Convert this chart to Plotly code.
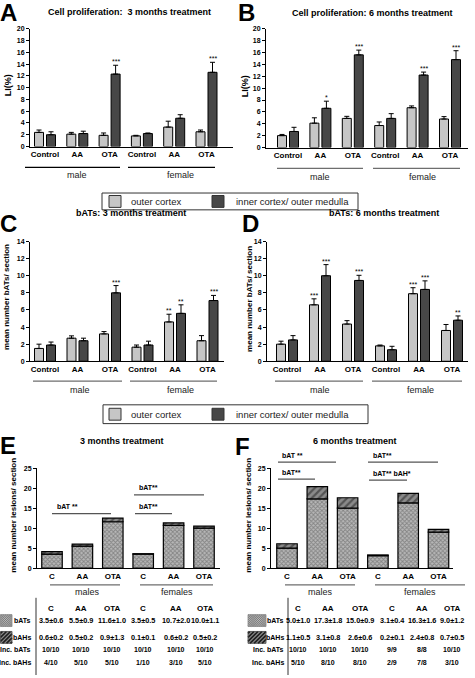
import plotly.graph_objects as go

W, H = 475, 678
FONT = "Liberation Sans, Arial, Helvetica, sans-serif"

# ---------------- data ----------------
groups = ["Control", "AA", "OTA", "Control", "AA", "OTA"]
groups_short = ["C", "AA", "OTA", "C", "AA", "OTA"]
series_names = ["outer cortex", "inner cortex/ outer medulla"]

# A: cell proliferation, 3 months (LI %)
a_outer = [2.4, 2.1, 1.9, 1.8, 3.3, 2.5]
a_outer_err = [0.4, 0.3, 0.4, 0.1, 1.0, 0.3]
a_inner = [2.0, 2.2, 12.3, 2.2, 4.8, 12.6]
a_inner_err = [0.5, 0.4, 1.5, 0.1, 0.6, 1.7]
a_outer_sig = ["", "", "", "", "", ""]
a_inner_sig = ["", "", "***", "", "", "***"]

# B: cell proliferation, 6 months (LI %)
b_outer = [2.0, 4.1, 4.9, 3.7, 6.7, 4.8]
b_outer_err = [0.2, 0.9, 0.35, 0.6, 0.3, 0.4]
b_inner = [2.7, 6.6, 15.6, 4.9, 12.2, 14.8]
b_inner_err = [0.7, 1.2, 0.8, 0.8, 0.5, 1.5]
b_outer_sig = ["", "", "", "", "", ""]
b_inner_sig = ["", "*", "***", "", "***", "***"]

# C: bATs, 3 months
c_outer = [1.5, 2.7, 3.2, 1.65, 4.6, 2.4]
c_outer_err = [0.5, 0.27, 0.27, 0.25, 0.9, 0.6]
c_inner = [1.9, 2.4, 8.0, 1.9, 5.6, 7.1]
c_inner_err = [0.35, 0.3, 0.85, 0.45, 1.0, 0.6]
c_outer_sig = ["", "", "", "", "**", ""]
c_inner_sig = ["", "", "***", "", "**", "***"]

# D: bATs, 6 months
d_outer = [2.0, 6.6, 4.35, 1.8, 7.9, 3.6]
d_outer_err = [0.35, 0.7, 0.4, 0.1, 0.7, 0.7]
d_inner = [2.5, 10.0, 9.45, 1.35, 8.4, 4.8]
d_inner_err = [0.5, 1.3, 0.6, 0.4, 1.0, 0.5]
d_outer_sig = ["", "***", "", "", "***", ""]
d_inner_sig = ["", "***", "***", "", "***", "**"]

# E: lesions, 3 months
e_bats = [3.5, 5.5, 11.6, 3.5, 10.7, 10.0]
e_bats_sd = [0.6, 0.9, 1.0, 0.5, 2.0, 1.1]
e_bahs = [0.6, 0.5, 0.9, 0.1, 0.6, 0.5]
e_bahs_sd = [0.2, 0.2, 1.3, 0.1, 0.2, 0.2]
e_inc_bats = ["10/10", "10/10", "10/10", "10/10", "10/10", "10/10"]
e_inc_bahs = ["4/10", "5/10", "5/10", "1/10", "3/10", "5/10"]

# F: lesions, 6 months
f_bats = [5.0, 17.3, 15.0, 3.1, 16.3, 9.0]
f_bats_sd = [1.0, 1.8, 0.9, 0.4, 1.6, 1.2]
f_bahs = [1.1, 3.1, 2.6, 0.2, 2.4, 0.7]
f_bahs_sd = [0.5, 0.8, 0.6, 0.1, 0.8, 0.5]
f_inc_bats = ["10/10", "10/10", "10/10", "9/9", "8/8", "10/10"]
f_inc_bahs = ["5/10", "8/10", "8/10", "2/9", "7/8", "3/10"]

# ---------------- styling / layout helpers ----------------
LIGHT = "#c6c6c6"
DARK = "#474747"
GRAYLINE = "#6e6e6e"
BATS_PAT = dict(shape="x", size=3, solidity=0.5, fgcolor="#4e4e4e", bgcolor="#b8b8b8")
BAHS_PAT = dict(shape="/", size=5, solidity=0.45, fgcolor="#1e1e1e", bgcolor="#8a8a8a")


def X(px):
    return px / W


def Y(py):
    return 1 - py / H


fig = go.Figure()
ann = []
shapes = []
layout = {}


def axes_ids(n):
    return ("x" if n == 1 else f"x{n}"), ("y" if n == 1 else f"y{n}")


def setup_axes(n, left, right, first, sp, ybot, ytop, yrange, dtick, ticktext, tickfs=8):
    xr = [-(first - left) / sp, (right - first) / sp]
    xa, ya = axes_ids(n)
    layout["xaxis" if n == 1 else f"xaxis{n}"] = dict(
        domain=[X(left), X(right)], range=xr, anchor=ya,
        showline=True, linecolor="black", linewidth=1, ticks="",
        tickvals=list(range(len(ticktext))), ticktext=ticktext,
        tickfont=dict(size=tickfs, family=FONT, color="black", weight="bold"),
        showgrid=False, zeroline=False, fixedrange=True)
    layout["yaxis" if n == 1 else f"yaxis{n}"] = dict(
        domain=[Y(ybot), Y(ytop)], range=yrange, anchor=xa,
        showline=True, linecolor="black", linewidth=1,
        ticks="outside", ticklen=3, tickwidth=1, tickcolor="black",
        dtick=dtick, tick0=0,
        tickfont=dict(size=7, family=FONT, color="black", weight="bold"),
        showgrid=False, zeroline=False, fixedrange=True)
    return xa, ya


def pair_panel(n, geo, outer, outer_err, inner, inner_err, outer_sig, inner_sig, yrange, dtick):
    left, right, first, sp, ybot, ytop = geo
    xa, ya = setup_axes(n, left, right, first, sp, ybot, ytop, yrange, dtick, groups)
    off = 6.0 / sp
    wid = 9.0 / sp
    xs = list(range(len(groups)))
    for vals, errs, sig, col, sgn, name in [
        (outer, outer_err, outer_sig, LIGHT, -1, series_names[0]),
        (inner, inner_err, inner_sig, DARK, 1, series_names[1]),
    ]:
        xpos = [x + sgn * off for x in xs]
        fig.add_trace(go.Bar(
            x=xpos, y=vals, width=wid, xaxis=xa, yaxis=ya, name=name,
            marker=dict(color=col, line=dict(color="black", width=1)),
            error_y=dict(type="data", array=errs, arrayminus=[0] * len(errs),
                         symmetric=False, color="black", thickness=1, width=2.5),
            showlegend=False, hoverinfo="skip"))
        for xp, v, e, s in zip(xpos, vals, errs, sig):
            if s:
                ann.append(dict(x=xp, y=v + e, xref=xa, yref=ya, text=s, showarrow=False,
                                yanchor="bottom", yshift=-2,
                                font=dict(size=7, family=FONT, color="black")))


def stack_panel(n, geo, bats, bahs):
    left, right, first, sp, ybot, ytop = geo
    xa, ya = setup_axes(n, left, right, first, sp, ybot, ytop, [0, 25], 5, groups_short)
    wid = 20.5 / sp
    xs = list(range(len(groups_short)))
    fig.add_trace(go.Bar(
        x=xs, y=bats, width=wid, xaxis=xa, yaxis=ya, name="bATs",
        marker=dict(color="#bdbdbd", line=dict(color="black", width=1.2), pattern=BATS_PAT),
        showlegend=False, hoverinfo="skip"))
    fig.add_trace(go.Bar(
        x=xs, y=bahs, base=bats, width=wid, xaxis=xa, yaxis=ya, name="bAHs",
        marker=dict(color="#555555", line=dict(color="black", width=1.2), pattern=BAHS_PAT),
        showlegend=False, hoverinfo="skip"))


pair_panel(1, (30, 233, 45, 32.3, 144, 25), a_outer, a_outer_err, a_inner, a_inner_err,
           a_outer_sig, a_inner_sig, [0, 20], 2)
pair_panel(2, (266, 468, 288, 32.4, 145, 25), b_outer, b_outer_err, b_inner, b_inner_err,
           b_outer_sig, b_inner_sig, [0, 20], 2)
pair_panel(3, (30, 224, 45, 32.5, 361, 240), c_outer, c_outer_err, c_inner, c_inner_err,
           c_outer_sig, c_inner_sig, [0, 14], 2)
pair_panel(4, (267, 468, 287, 33.0, 361, 240), d_outer, d_outer_err, d_inner, d_inner_err,
           d_outer_sig, d_inner_sig, [0, 14], 2)
stack_panel(5, (37, 220, 52, 30.4, 570, 469), e_bats, e_bahs)
stack_panel(6, (271, 453, 287, 30.3, 570, 469), f_bats, f_bahs)


# ---------------- text / shape helpers ----------------
def text(x, y, s, size=9, bold=False, xanchor="center", angle=0, color="black"):
    ann.append(dict(x=X(x), y=Y(y), xref="paper", yref="paper", text=s, showarrow=False,
                    xanchor=xanchor, yanchor="middle", textangle=angle,
                    font=dict(size=size, family=FONT, color=color,
                              weight="bold" if bold else "normal")))


def hline(x0, x1, y, color="black", width=1):
    shapes.append(dict(type="line", xref="paper", yref="paper", x0=X(x0), x1=X(x1),
                       y0=Y(y), y1=Y(y), line=dict(color=color, width=width)))


def vline(x, y0, y1, color="black", width=1):
    shapes.append(dict(type="line", xref="paper", yref="paper", x0=X(x), x1=X(x),
                       y0=Y(y0), y1=Y(y1), line=dict(color=color, width=width)))


def rect(x0, y0, x1, y1, fill, line="black", lw=1):
    shapes.append(dict(type="rect", xref="paper", yref="paper", x0=X(x0), x1=X(x1),
                       y0=Y(y0), y1=Y(y1), fillcolor=fill, line=dict(color=line, width=lw)))


def hatch(x0, y0, x1, y1, step, color, lw, forward=True, backward=False):
    """Diagonal hatch lines clipped to a pixel rectangle (legend swatch decoration)."""
    segs = []
    if forward:  # '/' lines: x + y = c
        c = x0 + y0 + step / 2
        while c < x1 + y1:
            xa, xb = max(x0, c - y1), min(x1, c - y0)
            if xb > xa:
                segs.append(f"M{X(xa):.5f},{Y(c - xa):.5f}L{X(xb):.5f},{Y(c - xb):.5f}")
            c += step
    if backward:  # '\' lines: x - y = c
        c = x0 - y1 + step / 2
        while c < x1 - y0:
            xa, xb = max(x0, c + y0), min(x1, c + y1)
            if xb > xa:
                segs.append(f"M{X(xa):.5f},{Y(xa - c):.5f}L{X(xb):.5f},{Y(xb - c):.5f}")
            c += step
    shapes.append(dict(type="path", xref="paper", yref="paper", path="".join(segs),
                       line=dict(color=color, width=lw)))


def swatch_bats(x0, y0, x1, y1):
    rect(x0, y0, x1, y1, "#bcbcbc", "rgba(0,0,0,0)", 0)
    hatch(x0, y0, x1, y1, 2.2, "#6a6a6a", 0.6, True, True)
    rect(x0, y0, x1, y1, "rgba(0,0,0,0)", "#888", 0.8)


def swatch_bahs(x0, y0, x1, y1):
    rect(x0, y0, x1, y1, "#8a8a8a", "rgba(0,0,0,0)", 0)
    hatch(x0, y0, x1, y1, 4.0, "#1e1e1e", 1.6, True, False)
    rect(x0, y0, x1, y1, "rgba(0,0,0,0)", "#444", 0.8)


# panel letters
for L, x, y in [("A", 8, 9), ("B", 246, 9), ("C", 8, 222), ("D", 251, 222),
                ("E", 8, 446), ("F", 242, 447)]:
    text(x, y, L, size=24, bold=True)

# titles
text(129, 8, "Cell proliferation:&nbsp; 3 months treatment", 9, True)
text(372, 9, "Cell proliferation: 6 months treatment", 9, True)
text(131, 211, "bATs: 3 months treatment", 9, True)
text(384, 211, "bATs: 6 months treatment", 9, True)
text(122, 442, "3 months treatment", 9, True)
text(355, 442, "6 months treatment", 9, True)

# y-axis titles
text(8, 82, "LI(%)", 9, True, angle=-90)
text(245, 83, "LI(%)", 9, True, angle=-90)
text(7, 296, "mean number bATs/ section", 8, True, angle=-90)
text(250, 298, "mean number bATs/ section", 8, True, angle=-90)
text(14, 517, "mean number lesions/ section", 8, True, angle=-90)
text(249, 517, "mean number lesions/ section", 8, True, angle=-90)

# group underlines and sex labels
for (m0, m1, f0, f1, ly, ty, mx, fx, col, lab) in [
    (25, 120, 128, 215, 165, 173, 77, 180, "black", ("male", "female")),
    (277, 363, 373, 460, 166, 175, 320, 422, GRAYLINE, ("male", "female")),
    (33, 122, 130, 217, 381, 390, 80, 180, GRAYLINE, ("male", "female")),
    (275, 363, 372, 462, 381, 390, 320, 420, GRAYLINE, ("male", "female")),
    (50, 120, 140, 213, 587, 594, 87, 177, GRAYLINE, ("males", "females")),
    (285, 355, 375, 465, 587, 594, 320, 420, GRAYLINE, ("males", "females")),
]:
    hline(m0, m1, ly, col, 1.2)
    hline(f0, f1, ly, col, 1.2)
    text(mx, ty, lab[0], 9, False, color="#222")
    text(fx, ty, lab[1], 9, False, color="#222")

# legend boxes for A-D
for (bx0, bx1, by0, by1) in [(102, 358, 191, 208), (103, 368, 405, 424)]:
    rect(bx0, by0, bx1, by1, "white", "#333", 1)
    cy = (by0 + by1) / 2
    rect(109, cy - 6, 121, cy + 6, LIGHT, "#333", 1)
    text(129, cy, series_names[0], 9.5, False, xanchor="left", color="#222")
    rect(212, cy - 6, 224, cy + 6, DARK, "#333", 1)
    text(234, cy, series_names[1], 9.5, False, xanchor="left", color="#222")

# significance bars E / F
for (x0, x1, y, lab, lx, lyy) in [
    (52, 111, 515, "bAT **", 55, 508),
    (134, 204, 496, "bAT**", 137, 489),
    (135, 172, 515, "bAT**", 137, 508),
    (278, 336, 463, "bAT **", 280, 456),
    (278, 315, 480, "bAT**", 280, 473),
    (368, 438, 463, "bAT**", 371, 456),
    (369, 407, 481, "bAT** bAH*", 371, 474),
]:
    hline(x0, x1, y, "#555", 1.2)
    text(lx, lyy, lab, 7, True, xanchor="left")

# tables
rows_y = dict(head=611, bats=623, bahs=640, incb=652, inch=665)


def table(cols, vline_x, lab_right, bats, bats_sd, bahs, bahs_sd, inc_b, inc_h, sw):
    vline(vline_x, 600, 678, "#333", 1)
    for c, g in zip(cols, groups_short):
        text(c, rows_y["head"], g, 8, True)
    for c, m, s in zip(cols, bats, bats_sd):
        text(c, rows_y["bats"], f"{m:.1f}±{s:.1f}", 7.3, True)
    for c, m, s in zip(cols, bahs, bahs_sd):
        text(c, rows_y["bahs"], f"{m:.1f}±{s:.1f}", 7.3, True)
    for c, v in zip(cols, inc_b):
        text(c, rows_y["incb"], v, 7, True)
    for c, v in zip(cols, inc_h):
        text(c, rows_y["inch"], v, 7, True)
    text(lab_right, rows_y["bats"], "bATs", 7, True, xanchor="right")
    text(lab_right, rows_y["bahs"], "bAHs", 7, True, xanchor="right")
    text(lab_right, rows_y["incb"], "Inc. bATs", 7, True, xanchor="right")
    text(lab_right, rows_y["inch"], "Inc. bAHs", 7, True, xanchor="right")
    sx0, sx1 = sw
    swatch_bats(sx0, rows_y["bats"] - 6, sx1, rows_y["bats"] + 6)
    swatch_bahs(sx0, rows_y["bahs"] - 6, sx1, rows_y["bahs"] + 6)


table([51, 81, 112, 143, 176, 205], 36, 33, e_bats, e_bats_sd, e_bahs, e_bahs_sd,
      e_inc_bats, e_inc_bahs, (0.5, 12))
table([298, 328, 360, 392, 422, 452], 288, 286, f_bats, f_bats_sd, f_bahs, f_bahs_sd,
      f_inc_bats, f_inc_bahs, (248, 266))

layout.update(
    width=W, height=H, margin=dict(l=0, r=0, t=0, b=0),
    paper_bgcolor="white", plot_bgcolor="white",
    barmode="overlay", showlegend=False,
    annotations=ann, shapes=shapes,
    font=dict(family=FONT, color="black"),
)
fig.update_layout(**layout)
fig.write_html(
    "out.html", config=dict(displayModeBar=False),
    post_script="document.body.style.margin='0';document.body.style.overflow='hidden';"
                "document.documentElement.style.overflow='hidden';")
